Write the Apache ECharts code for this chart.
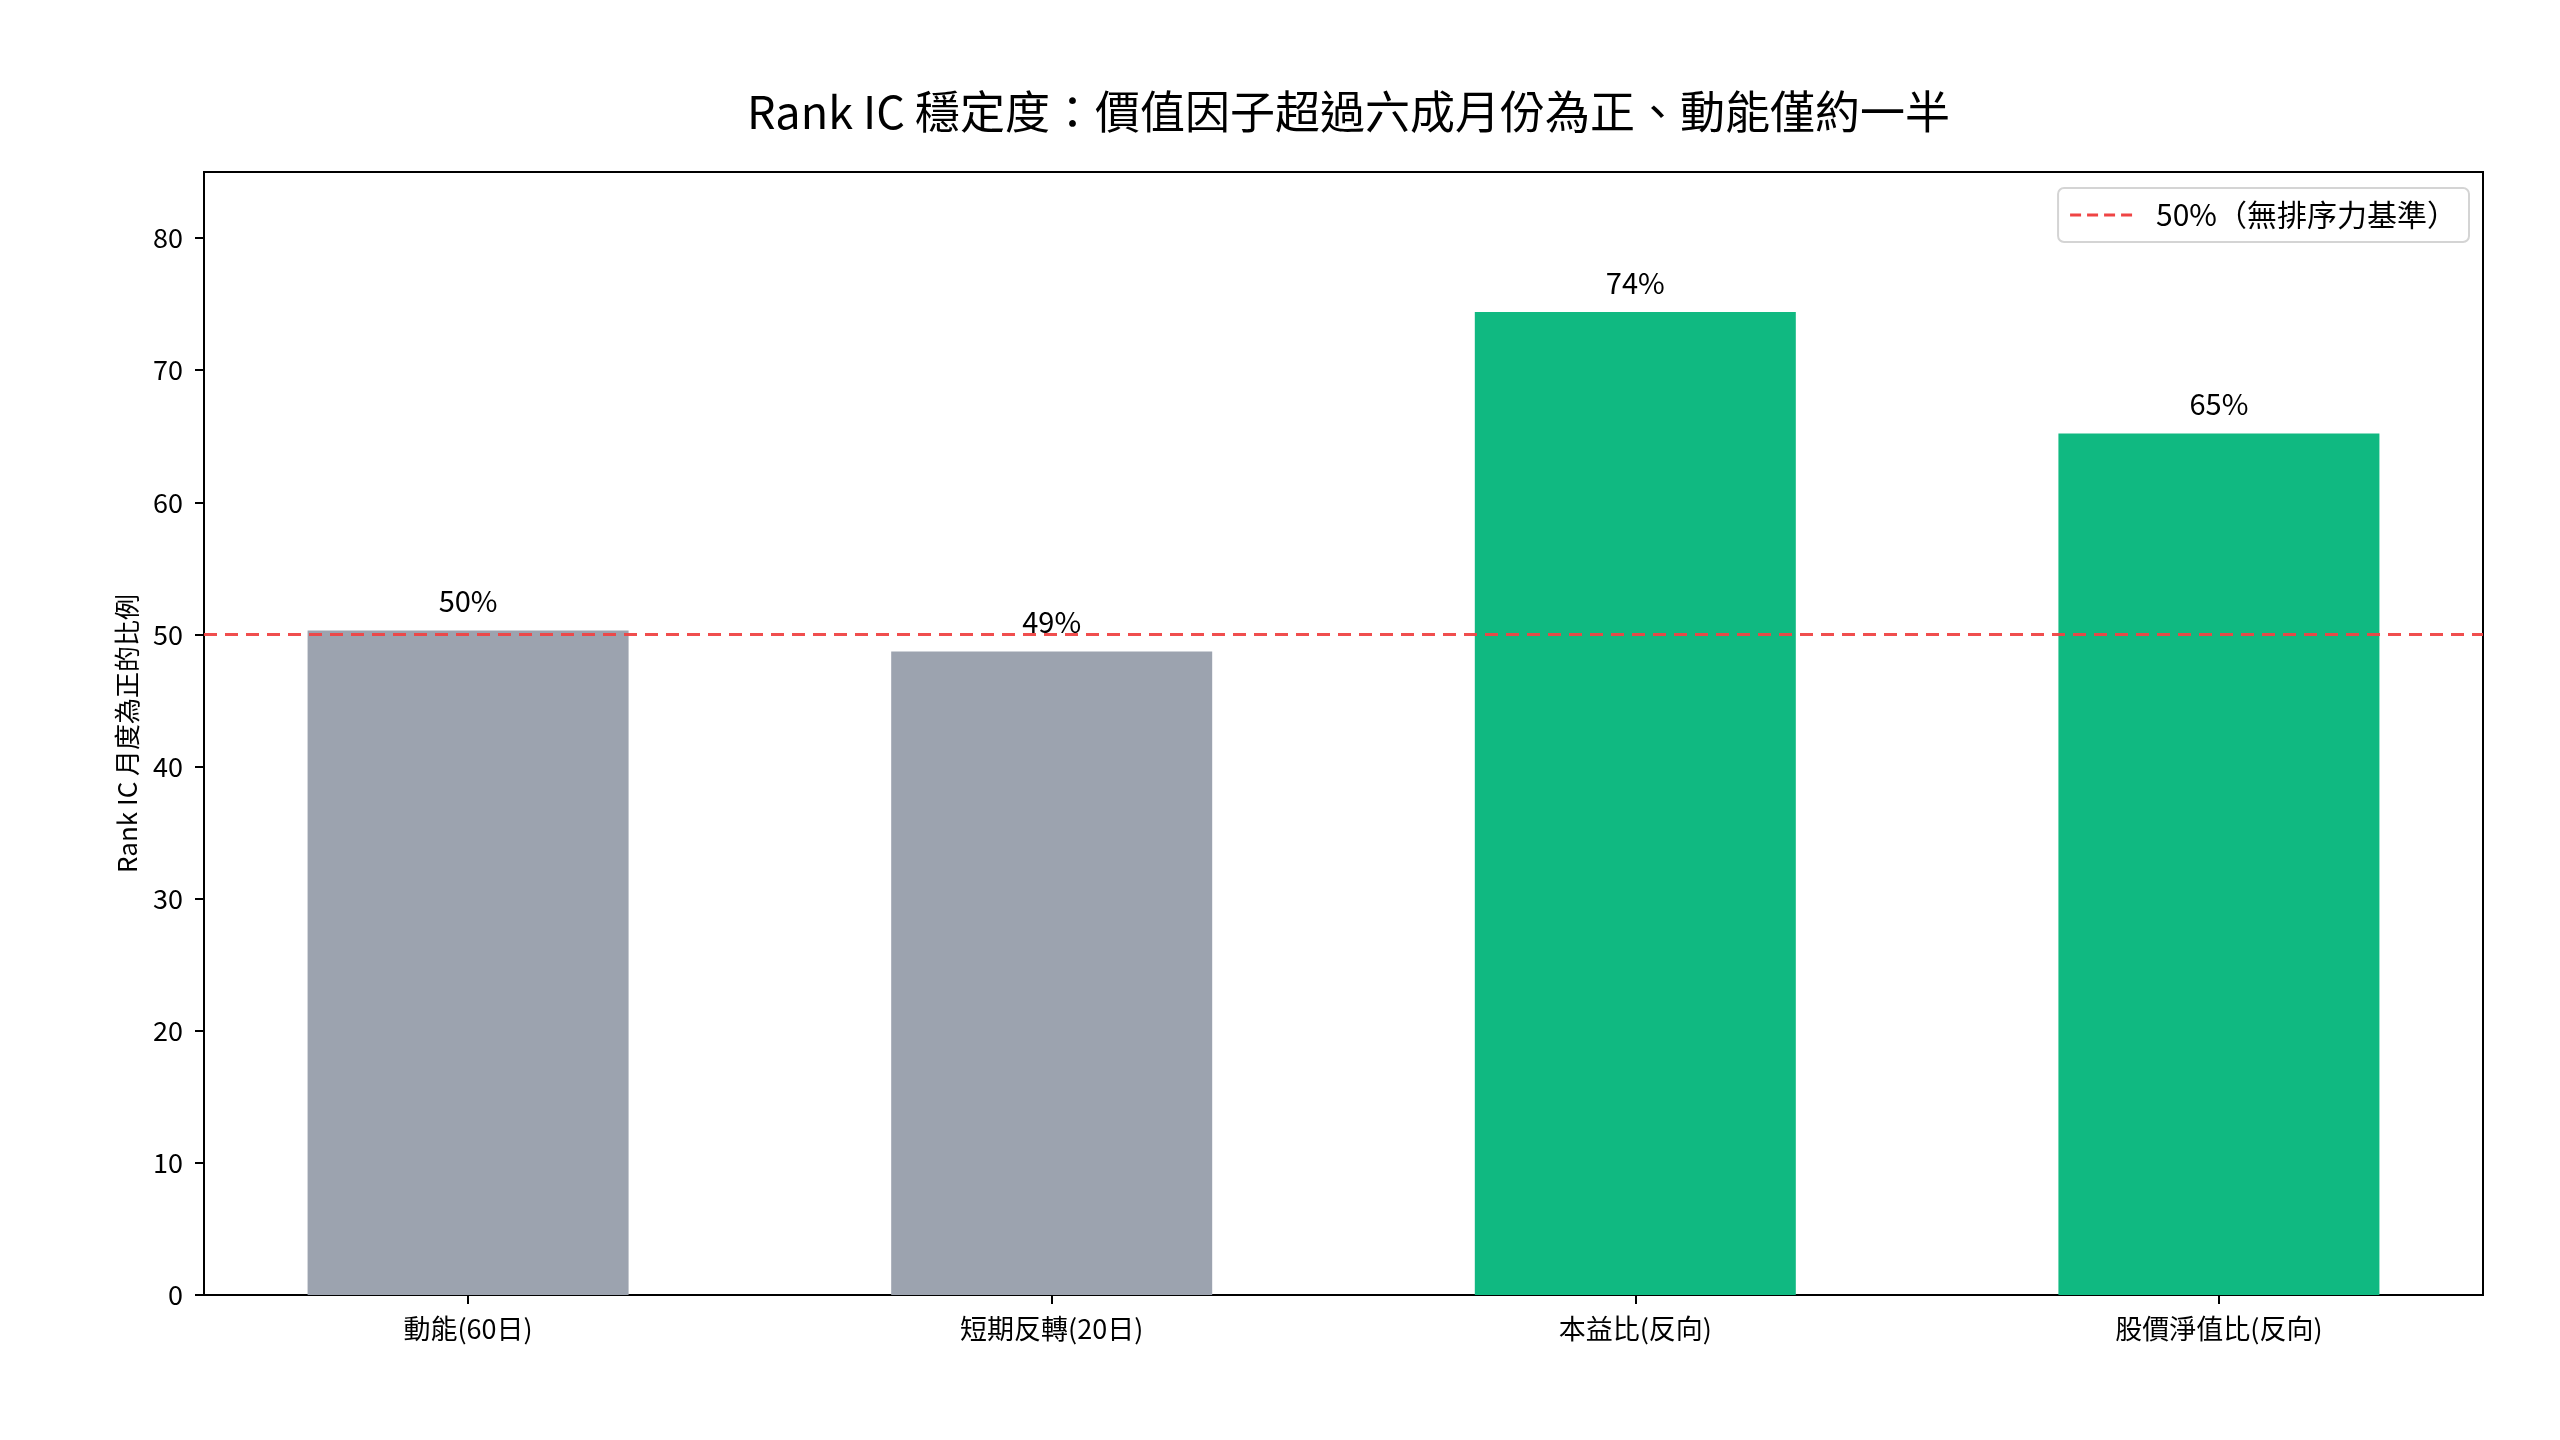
<!DOCTYPE html>
<html>
<head>
<meta charset="utf-8">
<script src="https://cdn.jsdelivr.net/npm/echarts@6/dist/echarts.min.js"></script>
<style>
  html, body { margin: 0; padding: 0; background: #fff; }
  #chart { width: 2560px; height: 1440px; }
</style>
</head>
<body>
<div id="chart"></div>
<script>
var categories = ['動能(60日)', '短期反轉(20日)', '本益比(反向)', '股價淨值比(反向)'];
var positiveRatio = [50.3, 48.7, 74.4, 65.2];
var barColors = ['#9ca3af', '#9ca3af', '#10b981', '#10b981'];
var baseline = 50;
var yTicks = [0, 10, 20, 30, 40, 50, 60, 70, 80];
var xTicks = [0, 1, 2, 3];

(function(){
  var font = '"Noto Sans CJK TC", "Noto Sans", sans-serif';
  var ink = '#000';
  var gridLeft = 204, gridRight = 77, gridTop = 172, gridBottom = 145;
  var xMin = -0.4525, xMax = 3.4525;
  var plotWidth = 2560 - gridLeft - gridRight;
  var barWidth = Math.round(0.55 * plotWidth / (xMax - xMin));

  var el = document.getElementById('chart');
  var c = echarts.init(el, null, {renderer: 'canvas'});

  var bars = positiveRatio.map(function(v, i){
    return {value: [xTicks[i], v], itemStyle: {color: barColors[i]}};
  });

  c.setOption({
    animation: false,
    backgroundColor: '#fff',
    textStyle: {fontFamily: font, color: ink},
    title: {
      text: 'Rank IC 穩定度：價值因子超過六成月份為正、動能僅約一半',
      left: gridLeft + plotWidth / 2,
      textAlign: 'center',
      top: 84,
      textStyle: {fontFamily: font, fontSize: 45, fontWeight: 'normal', color: ink}
    },
    legend: {
      right: 91,
      top: 188,
      orient: 'vertical',
      padding: [12, 12, 12, 12],
      borderColor: '#d4d4d4',
      borderWidth: 2,
      borderRadius: 6,
      backgroundColor: '#fff',
      itemWidth: 62,
      itemHeight: 4,
      data: [{
        name: '50%（無排序力基準）',
        icon: 'path://M0,0h11v3h-11z M17,0h11v3h-11z M34,0h11v3h-11z M51,0h11v3h-11z'
      }],
      textStyle: {fontFamily: font, fontSize: 30, color: ink, padding: [0, 0, 0, 19]}
    },
    grid: {
      left: gridLeft, right: gridRight, top: gridTop, bottom: gridBottom,
      show: true, borderColor: ink, borderWidth: 2, backgroundColor: 'transparent'
    },
    xAxis: {
      type: 'value',
      min: xMin,
      max: xMax,
      axisLine: {show: true, onZero: false, lineStyle: {color: ink, width: 2}},
      axisTick: {show: true, customValues: xTicks, length: 9, lineStyle: {color: ink, width: 2}},
      axisLabel: {
        customValues: xTicks,
        margin: 20,
        fontSize: 27,
        color: ink,
        fontFamily: font,
        formatter: function(v){ return categories[Math.round(v)] || ''; }
      },
      splitLine: {show: false}
    },
    yAxis: {
      type: 'value',
      min: 0,
      max: 85,
      name: 'Rank IC 月度為正的比例',
      nameLocation: 'middle',
      nameRotate: 90,
      nameGap: 64,
      nameTextStyle: {fontFamily: font, fontSize: 26, color: ink},
      axisLine: {show: true, onZero: false, lineStyle: {color: ink, width: 2}},
      axisTick: {show: true, customValues: yTicks, length: 9, lineStyle: {color: ink, width: 2}},
      axisLabel: {customValues: yTicks, margin: 21, fontSize: 27, color: ink, fontFamily: font},
      splitLine: {show: false}
    },
    series: [
      {
        type: 'bar',
        name: 'ratio',
        data: bars,
        barWidth: barWidth,
        label: {
          show: true,
          position: 'top',
          distance: 15,
          fontSize: 29,
          color: ink,
          fontFamily: font,
          formatter: function(p){ return Math.round(p.value[1]) + '%'; }
        }
      },
      {
        type: 'line',
        name: '50%（無排序力基準）',
        data: [],
        itemStyle: {color: '#ef4444'},
        lineStyle: {color: '#ef4444'},
        markLine: {
          silent: true,
          symbol: 'none',
          label: {show: false},
          lineStyle: {color: '#ef4444', type: [13, 8], width: 3, opacity: 0.95},
          data: [{yAxis: baseline}]
        }
      }
    ]
  });
})();
</script>
</body>
</html>
